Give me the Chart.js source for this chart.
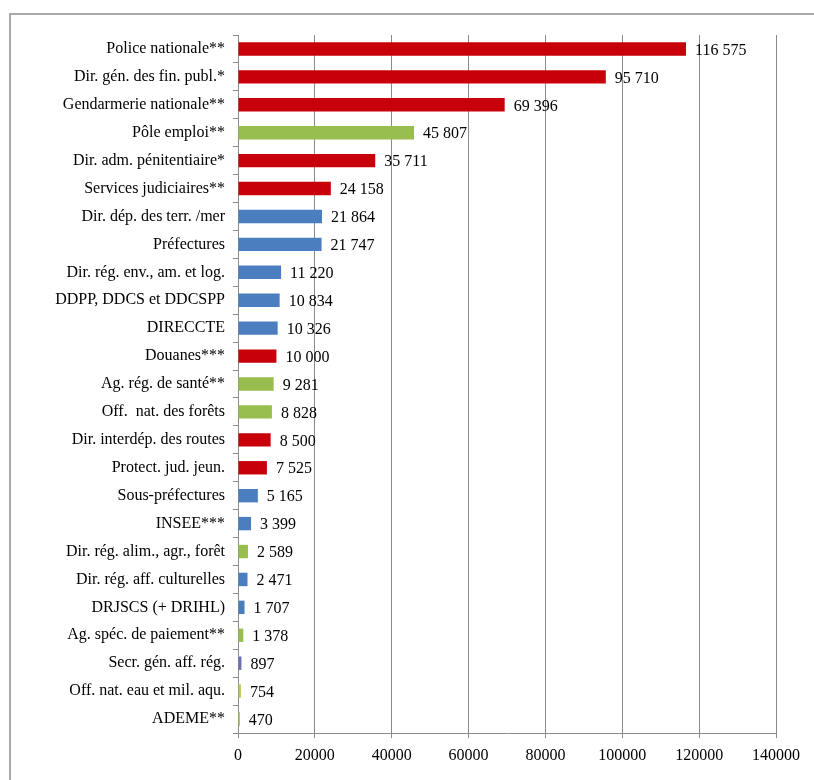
<!DOCTYPE html>
<html>
<head>
<meta charset="utf-8">
<script src="https://cdn.jsdelivr.net/npm/chart.js@4"></script>
<style>
  html, body { margin: 0; padding: 0; background: #fff; }
  #wrap { width: 814px; height: 780px; position: relative; }
</style>
</head>
<body>
<div id="wrap"><canvas id="myChart" width="814" height="780"></canvas></div>
<script>
const categories = [
    "Police nationale**", "Dir. gén. des fin. publ.*", "Gendarmerie nationale**", "Pôle emploi**",
    "Dir. adm. pénitentiaire*", "Services judiciaires**", "Dir. dép. des terr. /mer", "Préfectures",
    "Dir. rég. env., am. et log.", "DDPP, DDCS et DDCSPP", "DIRECCTE", "Douanes***",
    "Ag. rég. de santé**", "Off.  nat. des forêts", "Dir. interdép. des routes", "Protect. jud. jeun.",
    "Sous-préfectures", "INSEE***", "Dir. rég. alim., agr., forêt", "Dir. rég. aff. culturelles",
    "DRJSCS (+ DRIHL)", "Ag. spéc. de paiement**", "Secr. gén. aff. rég.", "Off. nat. eau et mil. aqu.",
    "ADEME**"
];
const effectifs = [
    116575, 95710, 69396, 45807, 35711, 24158, 21864, 21747, 11220, 10834, 10326, 10000,
    9281, 8828, 8500, 7525, 5165, 3399, 2589, 2471, 1707, 1378, 897, 754, 470
];
// r = rouge, g = vert, b = bleu
const groupes = [
    "r", "r", "r", "g", "r", "r", "b", "b", "b", "b", "b", "r",
    "g", "g", "r", "r", "b", "b", "g", "b", "b", "g", "p", "y", "g"
];
const xTicks = [0, 20000, 40000, 60000, 80000, 100000, 120000, 140000];

const couleurs = { r: "#C8000A", g: "#98BE4E", b: "#4A7EBF", p: "#6A70B8", y: "#B5CC50" };
const fontName = "'Liberation Serif', 'DejaVu Serif', serif";

const formatNombre = (v) => String(v).replace(/\B(?=(\d{3})+(?!\d))/g, " ");

const cadre = {
    id: "cadre",
    beforeDraw: (chart) => {
        const ctx = chart.ctx;
        ctx.save();
        ctx.strokeStyle = "#a8a8a8";
        ctx.lineWidth = 2;
        ctx.beginPath();
        ctx.moveTo(10, 780);
        ctx.lineTo(10, 14);
        ctx.lineTo(814, 14);
        ctx.stroke();
        ctx.restore();
    }
};

const etiquettes = {
    id: "etiquettes",
    afterDatasetsDraw: (chart) => {
        const ctx = chart.ctx;
        const meta = chart.getDatasetMeta(0);
        ctx.save();
        ctx.font = "16px " + fontName;
        ctx.fillStyle = "#000";
        ctx.textBaseline = "middle";
        ctx.textAlign = "left";
        meta.data.forEach((bar, i) => {
            ctx.fillText(formatNombre(effectifs[i]), bar.x + 9, bar.y + 1.5);
        });
        ctx.restore();
    }
};

const ctx = document.getElementById("myChart").getContext("2d");
const myChart = new Chart(ctx, {
    type: "bar",
    data: {
        labels: categories,
        datasets: [{
            data: effectifs,
            backgroundColor: groupes.map((g) => couleurs[g]),
            barPercentage: 0.48,
            categoryPercentage: 1.0,
        }],
    },
    options: {
        indexAxis: "y",
        responsive: false,
        animation: false,
        layout: { padding: { top: 35, right: 38, left: 0, bottom: 0 } },
        plugins: {
            legend: { display: false },
            tooltip: { enabled: false },
        },
        scales: {
            x: {
                min: 0,
                max: 140000,
                afterBuildTicks: (scale) => {
                    scale.ticks = xTicks.map((v) => ({ value: v }));
                },
                afterFit: (scale) => { scale.height = 47; },
                grid: { color: "#8a8a8a", lineWidth: 1, tickLength: 5, tickColor: "#8a8a8a" },
                border: { color: "#8a8a8a" },
                ticks: {
                    color: "#000",
                    font: { family: fontName, size: 16 },
                    padding: 8,
                    maxRotation: 0,
                    callback: (v) => String(v),
                },
            },
            y: {
                afterFit: (scale) => { scale.width = 238; },
                grid: { drawOnChartArea: false, tickLength: 5, color: "#8a8a8a", offset: true },
                border: { color: "#8a8a8a" },
                ticks: {
                    color: "#000",
                    font: { family: fontName, size: 16 },
                    padding: 8,
                    autoSkip: false,
                },
            },
        },
    },
    plugins: [cadre, etiquettes],
});
</script>
</body>
</html>
